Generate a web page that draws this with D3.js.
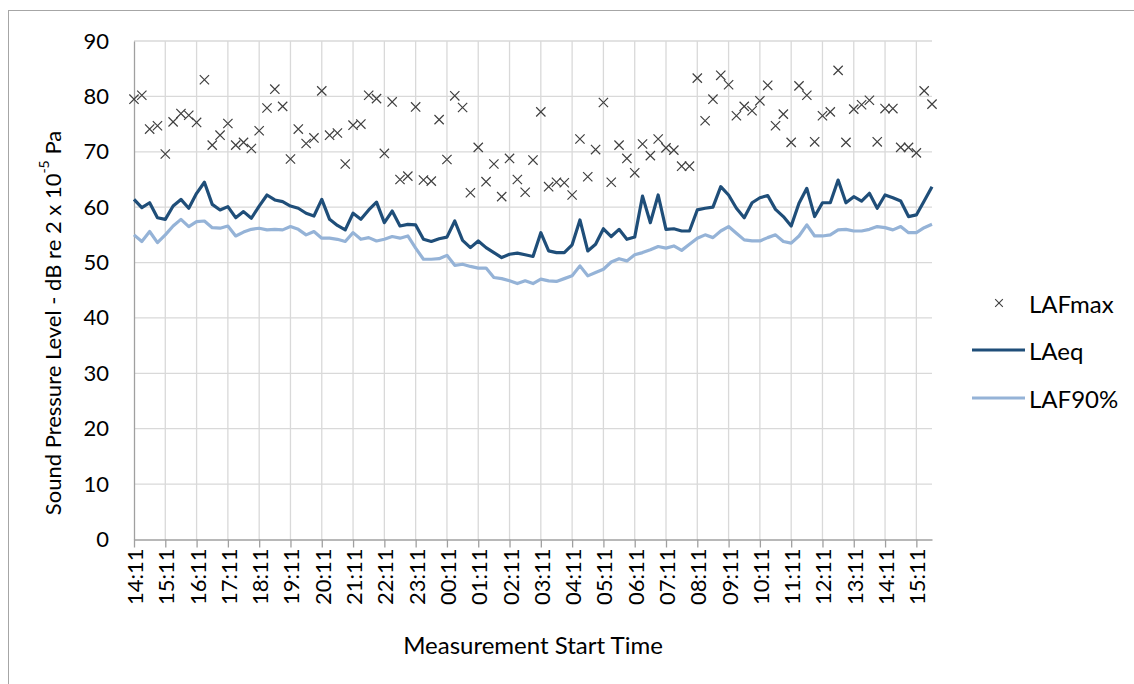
<!DOCTYPE html>
<html>
<head>
<meta charset="utf-8">
<script src="https://cdn.jsdelivr.net/npm/d3@7"></script>
<style>
  body { margin: 0; background: #fff; }
  text { font-family: Lato, "Open Sans", sans-serif; fill: #000; }
</style>
</head>
<body>
<script>
// values, one point every 15 minutes from 14:11
var lafMax = [79.5, 80.2, 74.1, 74.7, 69.6, 75.4, 76.9, 76.6, 75.3, 83.0,
              71.2, 73.0, 75.1, 71.2, 71.7, 70.6, 73.8, 77.9, 81.3, 78.2,
              68.7, 74.1, 71.5, 72.5, 81.0, 73.0, 73.4, 67.8, 74.8, 75.0,
              80.2, 79.6, 69.7, 79.0, 65.0, 65.6, 78.1, 64.9, 64.7, 75.8,
              68.6, 80.1, 78.0, 62.6, 70.8, 64.6, 67.8, 61.9, 68.8, 65.0,
              62.7, 68.5, 77.2, 63.7, 64.5, 64.4, 62.2, 72.3, 65.5, 70.4,
              78.9, 64.5, 71.2, 68.8, 66.2, 71.4, 69.3, 72.3, 70.7, 70.3,
              67.4, 67.4, 83.3, 75.6, 79.5, 83.8, 82.1, 76.5, 78.2, 77.4,
              79.2, 82.0, 74.7, 76.8, 71.7, 81.9, 80.2, 71.8, 76.5, 77.2,
              84.7, 71.7, 77.7, 78.5, 79.3, 71.8, 77.8, 77.8, 70.8, 70.8,
              69.8, 81.0, 78.6];

var laEq = [61.4, 59.9, 60.8, 58.1, 57.8, 60.2, 61.4, 59.8, 62.5, 64.5,
            60.5, 59.5, 60.1, 58.1, 59.2, 58.0, 60.2, 62.2, 61.3, 61.0,
            60.2, 59.8, 58.9, 58.4, 61.4, 57.8, 56.7, 55.9, 58.9, 57.8,
            59.5, 60.9, 57.2, 59.3, 56.6, 56.9, 56.8, 54.2, 53.8, 54.3,
            54.6, 57.5, 54.0, 52.7, 53.9, 52.7, 51.8, 50.9, 51.5, 51.7,
            51.4, 51.1, 55.4, 52.1, 51.8, 51.8, 53.2, 57.7, 52.1, 53.3,
            56.1, 54.7, 56.0, 54.2, 54.6, 62.0, 57.2, 62.2, 56.0, 56.1,
            55.7, 55.7, 59.5, 59.8, 60.0, 63.7, 62.2, 59.8, 58.1, 60.8,
            61.7, 62.1, 59.6, 58.3, 56.6, 60.7, 63.4, 58.3, 60.8, 60.8,
            64.9, 60.8, 61.9, 61.1, 62.5, 59.8, 62.2, 61.7, 61.1, 58.3,
            58.6, 61.1, 63.7];

var laf90 = [55.0, 53.8, 55.6, 53.6, 55.0, 56.6, 57.8, 56.5, 57.4, 57.5,
             56.3, 56.2, 56.6, 54.8, 55.5, 56.0, 56.2, 55.9, 56.0, 55.9,
             56.5, 56.0, 55.0, 55.6, 54.4, 54.4, 54.2, 53.8, 55.4, 54.2,
             54.5, 53.9, 54.2, 54.7, 54.4, 54.8, 52.6, 50.6, 50.6, 50.7,
             51.3, 49.5, 49.7, 49.3, 49.0, 49.0, 47.3, 47.1, 46.7, 46.2,
             46.7, 46.2, 47.0, 46.7, 46.6, 47.1, 47.6, 49.4, 47.6, 48.2,
             48.8, 50.1, 50.7, 50.3, 51.4, 51.8, 52.3, 52.9, 52.6, 53.0,
             52.2, 53.3, 54.4, 55.0, 54.5, 55.7, 56.5, 55.3, 54.1, 53.9,
             53.9, 54.5, 55.0, 53.8, 53.5, 54.8, 56.8, 54.8, 54.8, 55.0,
             55.9, 56.0, 55.7, 55.7, 56.0, 56.5, 56.3, 55.9, 56.5, 55.4,
             55.4, 56.3, 56.9];

// hourly labels, one every 4th point
var tickLabels = ["14:11", "15:11", "16:11", "17:11", "18:11", "19:11", "20:11",
                  "21:11", "22:11", "23:11", "00:11", "01:11", "02:11", "03:11",
                  "04:11", "05:11", "06:11", "07:11", "08:11", "09:11", "10:11",
                  "11:11", "12:11", "13:11", "14:11", "15:11"];
var yTicks = [0, 10, 20, 30, 40, 50, 60, 70, 80, 90];
var seriesNames = ["LAFmax", "LAeq", "LAF90%"];

(function() {
    var width = 1134, height = 684;
    var pLeft = 134, pRight = 932, pTop = 41, pBottom = 539.5;
    var darkBlue = "#1f4e79", lightBlue = "#95b3d7";

    var svg = d3.select("body").append("svg")
        .attr("width", width)
        .attr("height", height);

    // chart border
    svg.append("rect")
        .attr("x", 8.5).attr("y", 10.5)
        .attr("width", 1140).attr("height", 700)
        .attr("fill", "none")
        .attr("stroke", "#a6a6a6");

    var x = d3.scaleLinear().domain([0, laEq.length - 1]).range([pLeft, pRight]);
    var y = d3.scaleLinear().domain([0, 90]).range([pBottom, pTop]);
    var tickIdx = tickLabels.map(function(d, i) { return i * 4; });

    // gridlines
    var grid = svg.append("g").attr("stroke", "#d9d9d9").attr("stroke-width", 1.3);
    grid.selectAll(".hg").data(yTicks.slice(1)).enter().append("line")
        .attr("x1", pLeft).attr("x2", pRight)
        .attr("y1", function(d) { return y(d); })
        .attr("y2", function(d) { return y(d); });
    grid.selectAll(".vg").data(tickIdx.slice(1)).enter().append("line")
        .attr("x1", function(d) { return x(d); })
        .attr("x2", function(d) { return x(d); })
        .attr("y1", pTop).attr("y2", pBottom);

    // y axis
    var yAxis = svg.append("g")
        .attr("transform", "translate(" + pLeft + ",0)")
        .call(d3.axisLeft(y).tickValues(yTicks).tickSize(0).tickPadding(25));
    yAxis.select(".domain").attr("stroke", "#a0a0a0").attr("stroke-width", 1.3);
    yAxis.selectAll("text").style("font-size", "22px").attr("fill", "#000");

    // x axis
    var xAxis = svg.append("g")
        .attr("transform", "translate(0," + pBottom + ")")
        .call(d3.axisBottom(x).tickValues(tickIdx).tickSizeInner(8).tickSizeOuter(0)
            .tickFormat(function(d, i) { return tickLabels[i]; }));
    xAxis.select(".domain").attr("stroke", "#a0a0a0").attr("stroke-width", 1.3);
    xAxis.selectAll(".tick line").attr("stroke", "#a0a0a0").attr("stroke-width", 1.3);
    xAxis.selectAll("text")
        .style("font-size", "22px")
        .attr("fill", "#000")
        .attr("text-anchor", "end")
        .attr("dominant-baseline", "central")
        .attr("dy", null)
        .attr("transform", "translate(0,9) rotate(-90)")
        .attr("x", 0).attr("y", 0);

    // lines
    var line = function(vals) {
        return d3.line()
            .x(function(d, i) { return x(i); })
            .y(function(d) { return y(d); })(vals);
    };
    svg.append("path").attr("d", line(laf90))
        .attr("fill", "none").attr("stroke", lightBlue).attr("stroke-width", 3.2)
        .attr("stroke-linejoin", "round");
    svg.append("path").attr("d", line(laEq))
        .attr("fill", "none").attr("stroke", darkBlue).attr("stroke-width", 3.2)
        .attr("stroke-linejoin", "round");

    // LAFmax markers (x symbol is stroke only)
    var cross = d3.symbol().type(d3.symbolX).size(58);
    svg.append("g").selectAll("path").data(lafMax).enter().append("path")
        .attr("d", cross)
        .attr("transform", function(d, i) { return "translate(" + x(i) + "," + y(d) + ")"; })
        .attr("fill", "none")
        .attr("stroke", "#404040")
        .attr("stroke-width", 1.2);

    // axis titles
    svg.append("text")
        .attr("x", (pLeft + pRight) / 2).attr("y", 644)
        .attr("text-anchor", "middle").attr("dominant-baseline", "central")
        .style("font-size", "24px")
        .text("Measurement Start Time");

    var yt = svg.append("text")
        .attr("transform", "translate(52,323) rotate(-90)")
        .attr("text-anchor", "middle").attr("dominant-baseline", "central")
        .style("font-size", "22px");
    yt.append("tspan").text("Sound Pressure Level - dB re 2 x 10");
    yt.append("tspan").attr("baseline-shift", "super").style("font-size", "14px").text("-5");
    yt.append("tspan").text(" Pa");

    // legend
    var legend = svg.append("g");
    var legY = [303, 350, 398];
    legend.append("path")
        .attr("d", d3.symbol().type(d3.symbolX).size(40))
        .attr("transform", "translate(999," + legY[0] + ")")
        .attr("fill", "none")
        .attr("stroke", "#404040")
        .attr("stroke-width", 1.1);
    legend.append("line").attr("x1", 972).attr("x2", 1025)
        .attr("y1", legY[1]).attr("y2", legY[1])
        .attr("stroke", darkBlue).attr("stroke-width", 3.2);
    legend.append("line").attr("x1", 972).attr("x2", 1025)
        .attr("y1", legY[2]).attr("y2", legY[2])
        .attr("stroke", lightBlue).attr("stroke-width", 3.2);
    legend.selectAll("text").data(seriesNames).enter().append("text")
        .attr("x", 1029)
        .attr("y", function(d, i) { return legY[i]; })
        .attr("dominant-baseline", "central")
        .style("font-size", "24px")
        .text(function(d) { return d; });
})();
</script>
</body>
</html>
